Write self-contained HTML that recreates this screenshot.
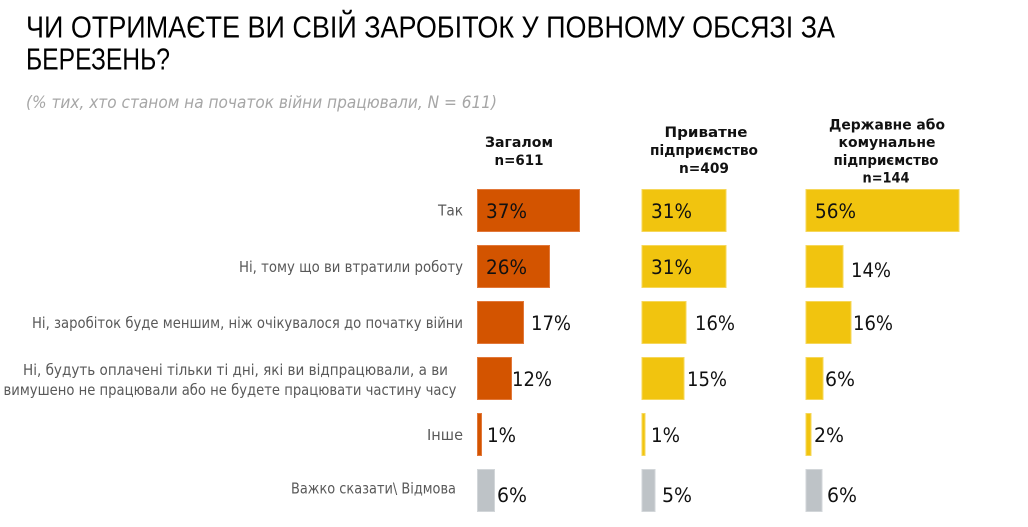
<!DOCTYPE html>
<html>
<head>
<meta charset="utf-8">
<style>
html,body{margin:0;padding:0;background:#fff;}
svg{display:block;}
.t{font-family:"Liberation Sans","DejaVu Sans",sans-serif;fill:#000;}
.sub{font-family:"DejaVu Sans","Liberation Sans",sans-serif;font-style:italic;fill:#a6a6a6;}
.lab{font-family:"DejaVu Sans","Liberation Sans",sans-serif;fill:#595959;font-size:15px;}
.hd{font-family:"DejaVu Sans","Liberation Sans",sans-serif;font-weight:bold;fill:#111;font-size:14.5px;text-anchor:middle;}
.v{font-family:"DejaVu Sans","Liberation Sans",sans-serif;fill:#111;font-size:19.5px;}
.o{fill:#D35400;stroke:#E2783A;stroke-width:1;}
.y{fill:#F1C40F;stroke:#F6D75A;stroke-width:1;}
.g{fill:#BEC3C7;stroke:#D2D6D9;stroke-width:1;}
</style>
</head>
<body>
<svg width="1028" height="527" viewBox="0 0 1028 527" xmlns="http://www.w3.org/2000/svg">
<!-- Title -->
<text class="t" x="26" y="37.5" font-size="31" textLength="809" lengthAdjust="spacingAndGlyphs">ЧИ ОТРИМАЄТЕ ВИ СВІЙ ЗАРОБІТОК У ПОВНОМУ ОБСЯЗІ ЗА</text>
<text class="t" x="26" y="69.5" font-size="31" textLength="144" lengthAdjust="spacingAndGlyphs">БЕРЕЗЕНЬ?</text>
<text class="sub" x="26" y="108" font-size="16.5" textLength="471" lengthAdjust="spacingAndGlyphs">(% тих, хто станом на початок війни працювали, N = 611)</text>

<!-- Headers -->
<text class="hd" x="519" y="147" textLength="68" lengthAdjust="spacingAndGlyphs">Загалом</text>
<text class="hd" x="519" y="165" textLength="49" lengthAdjust="spacingAndGlyphs">n=611</text>

<text class="hd" x="706" y="137" textLength="83" lengthAdjust="spacingAndGlyphs">Приватне</text>
<text class="hd" x="704" y="155" textLength="108" lengthAdjust="spacingAndGlyphs">підприємство</text>
<text class="hd" x="704" y="173" textLength="50" lengthAdjust="spacingAndGlyphs">n=409</text>

<text class="hd" x="887" y="129.5" textLength="116" lengthAdjust="spacingAndGlyphs">Державне або</text>
<text class="hd" x="887" y="147" textLength="97" lengthAdjust="spacingAndGlyphs">комунальне</text>
<text class="hd" x="886" y="165" textLength="105" lengthAdjust="spacingAndGlyphs">підприємство</text>
<text class="hd" x="886" y="182.5" textLength="47" lengthAdjust="spacingAndGlyphs">n=144</text>

<!-- Row labels -->
<text class="lab" x="463" y="215.5" text-anchor="end" textLength="25" lengthAdjust="spacingAndGlyphs">Так</text>
<text class="lab" x="463" y="272" text-anchor="end" textLength="224" lengthAdjust="spacingAndGlyphs">Ні, тому що ви втратили роботу</text>
<text class="lab" x="32" y="328" textLength="431" lengthAdjust="spacingAndGlyphs">Ні, заробіток буде меншим, ніж очікувалося до початку війни</text>
<text class="lab" x="23" y="375" textLength="425" lengthAdjust="spacingAndGlyphs">Ні, будуть оплачені тільки ті дні, які ви відпрацювали, а ви</text>
<text class="lab" x="3.5" y="395" textLength="453" lengthAdjust="spacingAndGlyphs">вимушено не працювали або не будете працювати частину часу</text>
<text class="lab" x="463" y="440" text-anchor="end" textLength="36" lengthAdjust="spacingAndGlyphs">Інше</text>
<text class="lab" x="291" y="493.5" textLength="165" lengthAdjust="spacingAndGlyphs">Важко сказати\ Відмова</text>

<!-- Column 1 bars -->
<rect class="o" x="477.5" y="189.5" width="102" height="42"/>
<rect class="o" x="477.5" y="245.5" width="72" height="42"/>
<rect class="o" x="477.5" y="301.5" width="46" height="42"/>
<rect class="o" x="477.5" y="357.5" width="34" height="42"/>
<rect class="o" x="477.5" y="413.5" width="4" height="42"/>
<rect class="g" x="477.5" y="469.5" width="17" height="42"/>

<!-- Column 2 bars -->
<rect class="y" x="642" y="189.5" width="84" height="42"/>
<rect class="y" x="642" y="245.5" width="84" height="42"/>
<rect class="y" x="642" y="301.5" width="44" height="42"/>
<rect class="y" x="642" y="357.5" width="42" height="42"/>
<rect class="y" x="642" y="413.5" width="3" height="42"/>
<rect class="g" x="642" y="469.5" width="13" height="42"/>

<!-- Column 3 bars -->
<rect class="y" x="806" y="189.5" width="153" height="42"/>
<rect class="y" x="806" y="245.5" width="37" height="42"/>
<rect class="y" x="806" y="301.5" width="45" height="42"/>
<rect class="y" x="806" y="357.5" width="17" height="42"/>
<rect class="y" x="806" y="413.5" width="5" height="42"/>
<rect class="g" x="806" y="469.5" width="16" height="42"/>

<!-- Values col1 -->
<text class="v" x="486" y="218" textLength="41" lengthAdjust="spacingAndGlyphs">37%</text>
<text class="v" x="486" y="274" textLength="41" lengthAdjust="spacingAndGlyphs">26%</text>
<text class="v" x="531" y="330" textLength="40" lengthAdjust="spacingAndGlyphs">17%</text>
<text class="v" x="512" y="386" textLength="40" lengthAdjust="spacingAndGlyphs">12%</text>
<text class="v" x="487" y="442" textLength="29" lengthAdjust="spacingAndGlyphs">1%</text>
<text class="v" x="497" y="502" textLength="30" lengthAdjust="spacingAndGlyphs">6%</text>

<!-- Values col2 -->
<text class="v" x="651" y="218" textLength="41" lengthAdjust="spacingAndGlyphs">31%</text>
<text class="v" x="651" y="274" textLength="41" lengthAdjust="spacingAndGlyphs">31%</text>
<text class="v" x="695" y="330" textLength="40" lengthAdjust="spacingAndGlyphs">16%</text>
<text class="v" x="687" y="386" textLength="40" lengthAdjust="spacingAndGlyphs">15%</text>
<text class="v" x="651" y="442" textLength="29" lengthAdjust="spacingAndGlyphs">1%</text>
<text class="v" x="662" y="502" textLength="30" lengthAdjust="spacingAndGlyphs">5%</text>

<!-- Values col3 -->
<text class="v" x="815" y="218" textLength="41" lengthAdjust="spacingAndGlyphs">56%</text>
<text class="v" x="851" y="277" textLength="40" lengthAdjust="spacingAndGlyphs">14%</text>
<text class="v" x="853" y="330" textLength="40" lengthAdjust="spacingAndGlyphs">16%</text>
<text class="v" x="825" y="386" textLength="30" lengthAdjust="spacingAndGlyphs">6%</text>
<text class="v" x="814" y="442" textLength="30" lengthAdjust="spacingAndGlyphs">2%</text>
<text class="v" x="827" y="502" textLength="30" lengthAdjust="spacingAndGlyphs">6%</text>
</svg>
</body>
</html>
